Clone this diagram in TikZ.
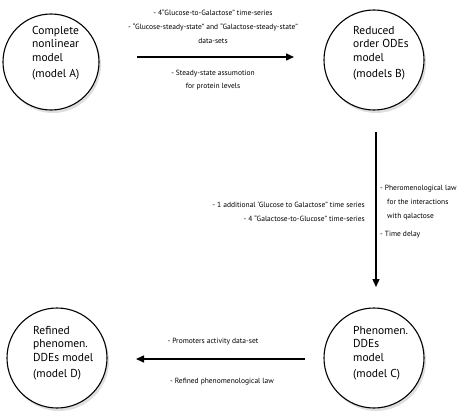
\documentclass[tikz,border=0pt]{standalone}
\usepackage{fontspec}
\setmainfont{PT Sans}
\usetikzlibrary{arrows.meta,shadows}
\begin{document}
\begin{tikzpicture}[x=1pt,y=-1pt,
  modelcircle/.style={circle,draw=black,line width=1.1pt,fill=white,minimum size=#1,inner sep=0pt,
    drop shadow={shadow xshift=2pt,shadow yshift=-3pt,opacity=0.25,fill=gray}},
  modeltext/.style={anchor=north west,align=left,font=\fontsize{11.5}{13.5}\selectfont,inner sep=0pt},
  note/.style={align=center,font=\fontsize{7.5}{14}\selectfont,inner sep=0pt},
  flow/.style={line width=1.4pt,-{Triangle[length=8pt,width=7pt]}}]
\useasboundingbox (0,0) rectangle (474,420);
% circles
\node[modelcircle=96pt] (A) at (51,62) {};
\node[modelcircle=100pt] (B) at (374,60) {};
\node[modelcircle=100pt] (C) at (374,358) {};
\node[modelcircle=100pt] (D) at (57,358) {};
% circle texts
\node[modeltext] (At) at (32,26) {Complete\\nonlinear\\model\\[3pt](model A)};
\node[modeltext] (Bt) at (353,26) {Reduced\\order ODEs\\model\\[3pt](models B)};
\node[modeltext] (Ct) at (353,326) {Phenomen.\\DDEs\\model\\[3pt](model C)};
\node[modeltext] (Dt) at (33,326) {Refined\\phenomen.\\DDEs model\\[3pt](model D)};
% connectors
\coordinate (ab1) at (137,57);
\coordinate (ab2) at (294,57);
\coordinate (bc1) at (376,132);
\coordinate (bc2) at (376,287);
\coordinate (cd1) at (305,359);
\coordinate (cd2) at (136,359);
\draw[flow] (ab1) -- (ab2);
\draw[flow] (bc1) -- (bc2);
\draw[flow] (cd1) -- (cd2);
% notes
\node[note,anchor=north] (n1) at (213,9) {- 4“Glucose-to-Galactose” time-series\\- “Glucose-steady-state” and “Galactose-steady-state”\\data-sets};
\node[note,anchor=north,font=\fontsize{7.5}{12.5}\selectfont] (n2) at (213,70) {- Steady-state assumotion\\for protein levels};
\node[note,anchor=north east,align=right] (n3) at (365,201) {- 1 additional ‘Glucose to Galactose” time series\\- 4 “Galactose-to-Glucose” time-series};
\node[note,anchor=north west,align=left] (n4) at (380,185) {- Pheromenological law\\\hspace*{7pt}for the interactions\\\hspace*{7pt}with qalactose\\[4pt]- Time delay};
\node[note,anchor=north] (n5) at (213,338) {- Promoters activity data-set};
\node[note,anchor=north] (n6) at (222,378) {- Refined phenomenological law};
\end{tikzpicture}
\end{document}
